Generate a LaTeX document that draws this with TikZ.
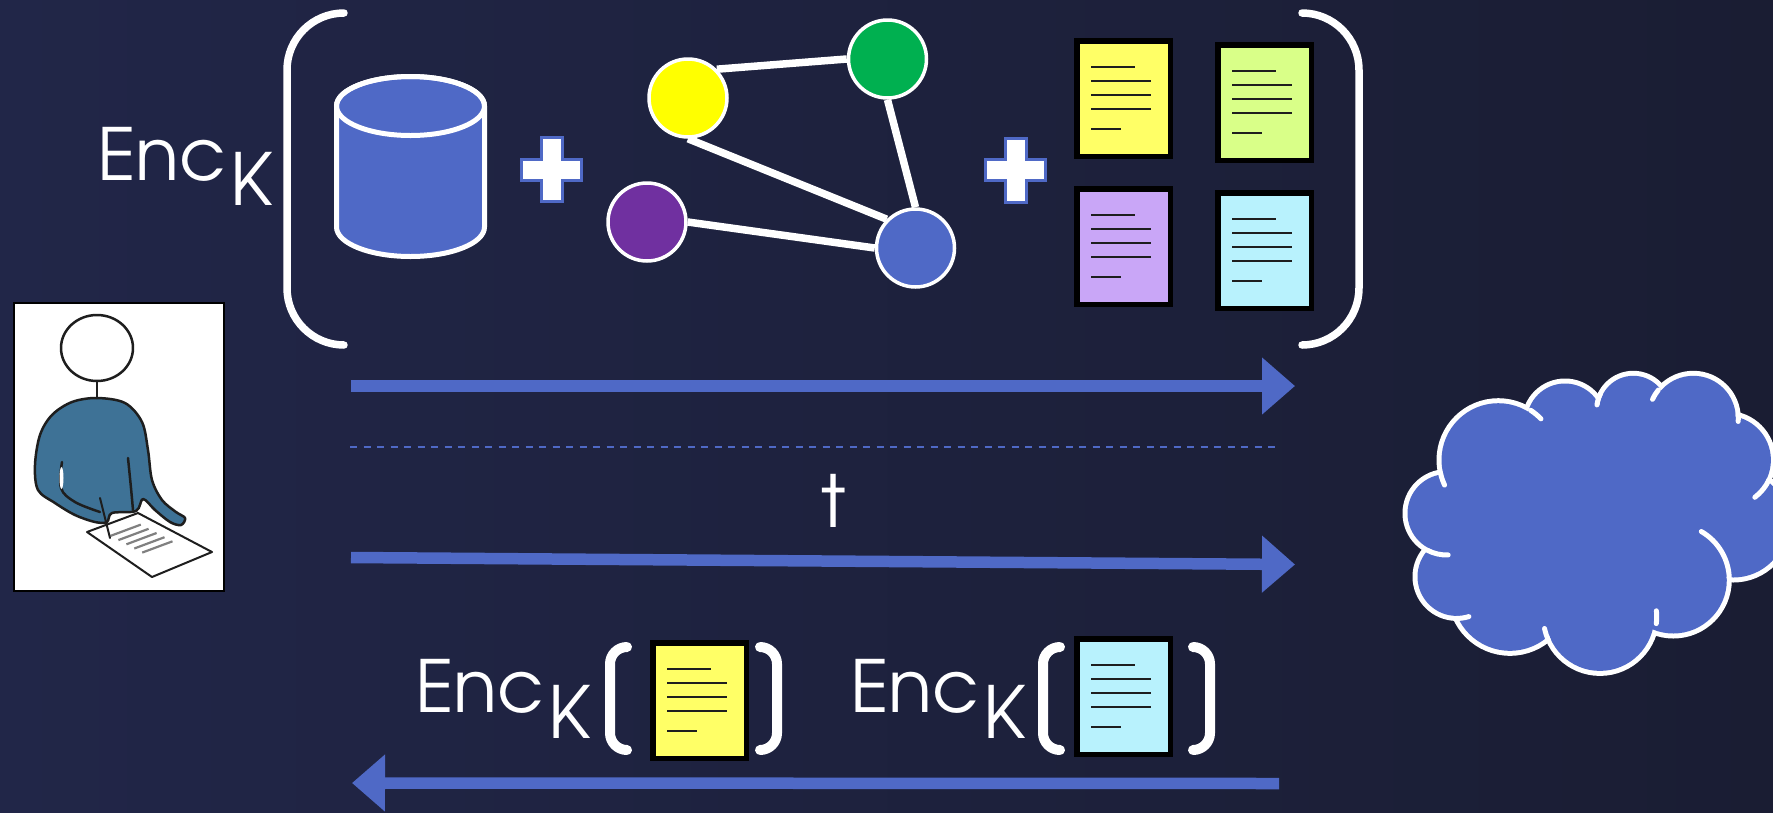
\documentclass[tikz,border=0pt]{standalone}
\usepackage{fontspec}
\setmainfont{texgyreadventor-regular.otf}
\usetikzlibrary{arrows.meta,shapes.geometric,calc}

\definecolor{bgdark}{HTML}{1A1D33}
\definecolor{bglight}{HTML}{212648}
\definecolor{accent}{HTML}{4F69C6}
\definecolor{nyellow}{HTML}{FFFF00}
\definecolor{ngreen}{HTML}{00B050}
\definecolor{npurple}{HTML}{7030A0}
\definecolor{dyellow}{HTML}{FFFF66}
\definecolor{dgreen}{HTML}{D9FF88}
\definecolor{dpurple}{HTML}{C9A6F7}
\definecolor{dcyan}{HTML}{B8F2FD}
\definecolor{shirt}{HTML}{3E7296}
\definecolor{ink}{HTML}{1E1E1E}

\pgfdeclarelayer{bglayer}
\pgfdeclarelayer{edges}
\pgfsetlayers{bglayer,edges,main}

\tikzset{
  bigbracket/.style={white, line width=7.5pt, line cap=round},
  smallbracket/.style={white, line width=10pt, line cap=round},
  flow/.style={accent, line width=11.5pt, -{Triangle[length=33pt,width=55pt]}},
  divider/.style={accent, line width=2.2pt, dash pattern=on 7pt off 6.5pt},
  gnode/.style={circle, draw=white, line width=3.5pt, minimum size=78pt, inner sep=0pt},
  gedge/.style={white, line width=7.5pt},
  docbox/.style={rectangle, draw=black, line width=5.5pt, minimum width=93.5pt, minimum height=115.5pt, inner sep=0pt},
  docline/.style={ink, line width=1.8pt},
  plusstyle/.style={fill=white, draw=accent, line width=3pt},
  label/.style={white, inner sep=0pt, font=\fontsize{72pt}{72pt}\selectfont},
  cylstyle/.style={fill=accent, draw=white, line width=5pt},
  figline/.style={draw=ink, line width=2.5pt, line join=round, line cap=round},
}

% a page of text: name, top-left x, top-left y, fill colour
\newcommand\docpage[4]{%
  \node[docbox, fill=#4] (#1) at (#2+49.5,#3+60.5) {};
  \begin{scope}[shift={(#2,#3)}]
    \draw[docline] (17,29) -- (61,29);
    \draw[docline] (17,43) -- (77,43);
    \draw[docline] (17,57) -- (77,57);
    \draw[docline] (17,71) -- (77,71);
    \draw[docline] (17,91) -- (47,91);
  \end{scope}}

% white plus sign with a blue rim
\newcommand\plussign[2]{%
  \filldraw[plusstyle, shift={(#1,#2)}]
    (-10.5,-32) -- (10.5,-32) -- (10.5,-10.5) -- (30,-10.5) -- (30,10.5)
    -- (10.5,10.5) -- (10.5,32) -- (-10.5,32) -- (-10.5,10.5) -- (-30,10.5)
    -- (-30,-10.5) -- (-10.5,-10.5) -- cycle;}

\begin{document}
\begin{tikzpicture}[x=1pt,y=-1pt]
\useasboundingbox (0,0) rectangle (1773,812);
\clip (0,0) rectangle (1773,812);

\begin{pgfonlayer}{bglayer}
  \shade[left color=bglight, right color=bgdark] (0,0) rectangle (1773,812);
\end{pgfonlayer}

% ---------- encrypted bundle ----------
\node[label, anchor=base west] (enctop) at (97,180) {Enc\kern4pt\raisebox{-25pt}{K}};

\draw[bigbracket] (344,13) arc[start angle=270, end angle=180, radius=57]
  -- (287,288) arc[start angle=180, end angle=90, radius=57];
\draw[bigbracket] (1302,13) arc[start angle=270, end angle=360, radius=57]
  -- (1359,288) arc[start angle=0, end angle=90, radius=57];

% database
\filldraw[cylstyle] (336.5,106) -- (336.5,227)
  arc[start angle=180, end angle=0, x radius=74, y radius=29.5]
  -- (484.5,106)
  arc[start angle=0, end angle=-180, x radius=74, y radius=29.5] -- cycle;
\draw[white, line width=5pt] (410.5,106) ellipse[x radius=74, y radius=29.5];

\plussign{551.5}{169.5}
\plussign{1015.5}{170}

% graph
\node[gnode, fill=nyellow] (gy) at (688,98) {};
\node[gnode, fill=ngreen]  (gg) at (887.5,59) {};
\node[gnode, fill=npurple] (gp) at (647,222) {};
\node[gnode, fill=accent]  (gb) at (915.5,248) {};
\begin{pgfonlayer}{edges}
  \draw[gedge] (gy.north east) -- (gg.west);
  \draw[gedge] (gy.south) -- (gb.north west);
  \draw[gedge] (gg.south) -- (gb.north);
  \draw[gedge] (gp.east) -- (gb.west);
\end{pgfonlayer}

% documents
\docpage{dy}{1074}{38}{dyellow}
\docpage{dg}{1215}{42}{dgreen}
\docpage{dp}{1074}{186}{dpurple}
\docpage{dc}{1215}{190}{dcyan}

% ---------- messages ----------
\coordinate (up1s) at (351,386);
\coordinate (up1e) at (1295,386);
\coordinate (divs) at (350,447);
\coordinate (dive) at (1279,447);
\coordinate (up2s) at (351,557.5);
\coordinate (up2e) at (1295,564.5);
\coordinate (dns) at (1279,783.5);
\coordinate (dne) at (352,783);

\draw[flow] (up1s) -- (up1e);
\draw[divider] (divs) -- (dive);
\node[label, anchor=base] (tok) at (834,527) {t};
\draw[flow] (up2s) -- (up2e);
\draw[flow] (dns) -- (dne);

% returned pages
\node[label, anchor=base west] (encl) at (415,712) {Enc\kern4pt\raisebox{-26pt}{K}};
\draw[smallbracket] (627,647) arc[start angle=270, end angle=180, radius=17]
  -- (610,733) arc[start angle=180, end angle=90, radius=17];
\docpage{ry}{650}{640}{dyellow}
\draw[smallbracket] (760,647) arc[start angle=270, end angle=360, radius=17]
  -- (777,733) arc[start angle=0, end angle=90, radius=17];

\node[label, anchor=base west] (encr) at (850,712) {Enc\kern4pt\raisebox{-26pt}{K}};
\draw[smallbracket] (1060,647) arc[start angle=270, end angle=180, radius=17]
  -- (1043,733) arc[start angle=180, end angle=90, radius=17];
\docpage{rc}{1074}{636}{dcyan}
\draw[smallbracket] (1193,647) arc[start angle=270, end angle=360, radius=17]
  -- (1210,733) arc[start angle=0, end angle=90, radius=17];

% ---------- user ----------
\node[rectangle, draw=black, fill=white, line width=1.5pt, minimum width=210pt,
      minimum height=288pt, inner sep=0pt] (user) at (119,447) {};
\begin{scope}
  % sheet of paper
  \filldraw[figline, fill=white, line width=2pt] (87,532) -- (138,513) -- (212,552) -- (152,577) -- cycle;
  \foreach \ax/\ay/\bx/\by in {110.5/535.9/140.8/524.6, 118.4/540.1/148.6/528.8,
      126.4/544.3/156.6/533.0, 134.3/548.5/164.5/537.2, 142.2/552.6/172.5/541.3}
    \draw[gray, line width=2.2pt] (\ax,\ay) -- (\bx,\by);
  % body
  \filldraw[figline, fill=shirt] plot[smooth cycle, tension=0.55] coordinates {
    (97,398) (125,403) (142,422) (148,450) (152,480) (162,500) (176,512) (185,518)
    (181,525) (170,522) (155,510) (143,499) (136,511) (112,513) (107,522) (95,522)
    (75,515) (55,503) (38,490) (35,465) (40,435) (52,415) (72,402)};
  \draw[figline] plot[smooth, tension=0.6] coordinates {(62,462) (61,488) (75,502) (100,512)};
  \fill[white] (61.5,478) ellipse[x radius=2, y radius=11];
  \draw[figline] plot[smooth, tension=0.6] coordinates {(128,458) (131,488) (133,510)};
  \draw[figline, line width=2pt] (100,498) -- (110,538);
  % head and neck
  \draw[figline] (97,381) -- (97,398);
  \filldraw[figline, fill=white] (97,348) ellipse[x radius=36, y radius=33];
\end{scope}

% ---------- cloud ----------
\coordinate (server) at (1590,520);
\begin{scope}
  \foreach \cx/\cy/\r in {1498.3/460/59.3, 1565/421.7/40.7, 1633.3/410/36.7,
      1693.3/418.3/45, 1726.7/460/46.7, 1733.3/523.3/56.7, 1673.3/580/56,
      1600/616.7/56.7, 1510/593.3/60, 1456.7/576.7/41.7, 1446.7/513.3/41.7}
    \draw[white, line width=10pt] (\cx,\cy) circle[radius=\r-2.5];
  \foreach \cx/\cy/\r in {1498.3/460/59.3, 1565/421.7/40.7, 1633.3/410/36.7,
      1693.3/418.3/45, 1726.7/460/46.7, 1733.3/523.3/56.7, 1673.3/580/56,
      1600/616.7/56.7, 1510/593.3/60, 1456.7/576.7/41.7, 1446.7/513.3/41.7}
    \fill[accent] (\cx,\cy) circle[radius=\r-2.5];
  \fill[accent] (1498.3,460) -- (1565,421.7) -- (1633.3,410) -- (1693.3,418.3)
    -- (1726.7,460) -- (1733.3,523.3) -- (1673.3,580) -- (1600,616.7)
    -- (1510,593.3) -- (1456.7,576.7) -- (1446.7,513.3) -- cycle;
  % inner folds of the puffs
  \foreach \cx/\cy/\r/\sa/\ea in {1498.3/460/59.3/168/155, 1498.3/460/59.3/-57/-44,
      1633.3/410/36.7/207/188, 1693.3/418.3/45/219/205, 1693.3/418.3/45/-6/4,
      1726.7/460/46.7/25/53, 1673.3/580/56/0/-60, 1600/616.7/56.7/7/-6,
      1600/616.7/56.7/155/168, 1456.7/576.7/41.7/90/73, 1446.7/513.3/41.7/118/88}
    \draw[white, line width=5pt, line cap=round]
      ($(\cx,\cy)+(\sa:\r)$) arc[start angle=\sa, end angle=\ea, radius=\r];
\end{scope}

\end{tikzpicture}
\end{document}
